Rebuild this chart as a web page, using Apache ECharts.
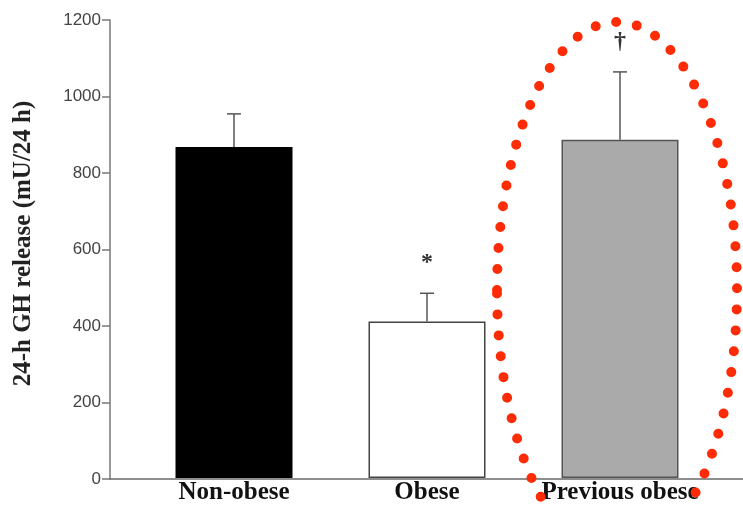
<!DOCTYPE html>
<html><head><meta charset="utf-8">
<script src="https://cdn.jsdelivr.net/npm/echarts@6/dist/echarts.min.js"></script>
<style>html,body{margin:0;padding:0;background:#fff}#c{width:743px;height:505px}</style>
</head><body><div id="c"></div>
<script>
// ---- data ----
const categories = ['Non-obese', 'Obese', 'Previous obese'];
const means = [867, 410, 886];
const upperErrors = [87, 74, 178];
const marks = ['', '*', '\u2020'];
const yMin = 0, yMax = 1200, yStep = 200;
const barColors = ['#000000', '#ffffff', '#aaaaaa'];
const barBorders = ['#000000', '#444444', '#555555'];

const chart = echarts.init(document.getElementById('c'), null, {renderer: 'canvas'});

const barData = means.map((v, i) => ({
  value: v,
  itemStyle: {color: barColors[i], borderColor: barBorders[i], borderWidth: 1.5}
}));
const errData = means.map((v, i) => [i, v, upperErrors[i]]);

const option = {
  backgroundColor: '#ffffff',
  animation: false,
  grid: [
    {left: 137.5, right: 26.5, top: 20, bottom: 26},
    {left: 110, right: 0, top: 20, bottom: 26}
  ],
  xAxis: [
    {
      type: 'category', gridIndex: 0, data: categories,
      axisLine: {show: false}, axisTick: {show: false},
      axisLabel: {
        interval: 0, margin: 2, color: '#111',
        fontFamily: 'Liberation Serif', fontWeight: 'bold', fontSize: 25
      }
    },
    {
      type: 'value', gridIndex: 1, min: 0, max: 1,
      axisLine: {show: true, lineStyle: {color: '#6a6a6a', width: 1.5}},
      axisTick: {show: false}, axisLabel: {show: false}, splitLine: {show: false}
    }
  ],
  yAxis: [
    {type: 'value', gridIndex: 0, min: yMin, max: yMax, show: false},
    {
      type: 'value', gridIndex: 1, min: yMin, max: yMax, interval: yStep,
      name: '24-h GH release (mU/24 h)', nameLocation: 'middle', nameGap: 74,
      nameTextStyle: {
        color: '#222', fontFamily: 'Liberation Serif', fontWeight: 'bold', fontSize: 25,
        padding: [0, 0, 0, 12]
      },
      axisLine: {show: true, lineStyle: {color: '#777', width: 1.5}},
      axisTick: {show: true, inside: false, length: 8, lineStyle: {color: '#777', width: 1.5}},
      axisLabel: {margin: 9, color: '#444', fontFamily: 'Liberation Sans', fontSize: 17,
        formatter: v => String(v)},
      splitLine: {show: false}
    }
  ],
  series: [
    {
      type: 'bar', xAxisIndex: 0, yAxisIndex: 0, data: barData,
      barWidth: 117, z: 2
    },
    {
      type: 'custom', xAxisIndex: 0, yAxisIndex: 0, data: errData, z: 3,
      renderItem: function (params, api) {
        const x = api.value(0);
        const base = api.coord([x, api.value(1)]);
        const top = api.coord([x, api.value(1) + api.value(2)]);
        const st = {stroke: '#555', lineWidth: 1.5};
        return {
          type: 'group',
          children: [
            {type: 'line', shape: {x1: base[0], y1: base[1], x2: top[0], y2: top[1]}, style: st},
            {type: 'line', shape: {x1: top[0] - 7, y1: top[1], x2: top[0] + 7, y2: top[1]}, style: st},
            {type: 'text', x: top[0], y: top[1] - 30,
              style: {text: marks[params.dataIndex], fill: '#333',
                font: 'bold 24px "Liberation Serif"', align: 'center', verticalAlign: 'middle'}}
          ]
        };
      }
    }
  ]
};
chart.setOption(option);

// red dotted ellipse highlighting the third group
const c = chart.convertToPixel({gridIndex: 0}, [2, 0]);
chart.setOption({
  graphic: [{
    type: 'ellipse', z: 10,
    x: c[0] - 3, y: 290,
    shape: {cx: 0, cy: 0, rx: 120, ry: 268},
    style: {fill: 'none', stroke: '#fe2c06', lineWidth: 10, lineDash: [0, 21], lineCap: 'round'}
  }]
});
</script></body></html>
